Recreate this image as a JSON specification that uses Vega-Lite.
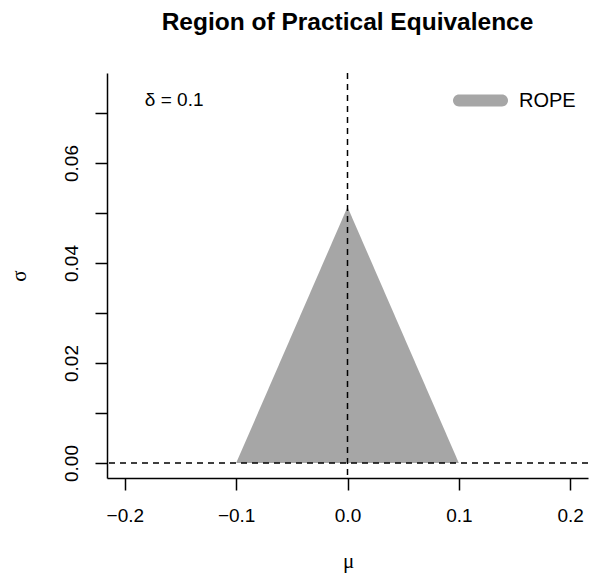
{
  "$schema": "https://vega.github.io/schema/vega-lite/v6.json",
  "width": 481,
  "height": 405,
  "autosize": {"type": "none"},
  "padding": {"left": 107, "top": 73, "right": 7, "bottom": 95},
  "config": {
    "view": {"stroke": null},
    "font": "Liberation Sans",
    "axis": {
      "grid": false,
      "domainColor": "black",
      "domainWidth": 1.5,
      "tickColor": "black",
      "tickWidth": 1.5,
      "tickSize": 12,
      "labelFont": "Liberation Sans",
      "labelFontSize": 19,
      "labelColor": "black",
      "labelFlush": false,
      "labelOverlap": false,
      "titleFont": "Liberation Serif",
      "titleFontSize": 21,
      "titleFontWeight": "normal",
      "titleColor": "black"
    }
  },
  "title": {
    "text": "Region of Practical Equivalence",
    "font": "Liberation Sans",
    "fontSize": 24.5,
    "fontWeight": "bold",
    "color": "black",
    "anchor": "middle",
    "frame": "group",
    "baseline": "alphabetic",
    "offset": 18
  },
  "datasets": {
    "rope": [
      {"mu": -0.1, "sigma": 0, "region": "ROPE"},
      {"mu": 0, "sigma": 0.0512, "region": "ROPE"},
      {"mu": 0.1, "sigma": 0, "region": "ROPE"}
    ]
  },
  "layer": [
    {
      "data": {"name": "rope"},
      "mark": {"type": "area", "opacity": 1},
      "encoding": {
        "x": {
          "field": "mu",
          "type": "quantitative",
          "scale": {"domain": [-0.216, 0.216], "nice": false, "zero": false},
          "axis": {
            "values": [-0.2, -0.1, 0, 0.1, 0.2],
            "format": ".1f",
            "labelPadding": 16,
            "title": "μ",
            "titleAlign": "center",
            "titleBaseline": "alphabetic",
            "titleX": 241,
            "titleY": 89
          }
        },
        "y": {
          "field": "sigma",
          "type": "quantitative",
          "scale": {"domain": [-0.003, 0.078], "nice": false, "zero": false},
          "axis": {
            "values": [0, 0.01, 0.02, 0.03, 0.04, 0.05, 0.06, 0.07],
            "labelExpr": "round(datum.value*100) % 2 == 0 ? format(datum.value, '.2f') : ''",
            "labelAngle": -90,
            "labelAlign": "center",
            "labelBaseline": "alphabetic",
            "labelPadding": 18,
            "title": "σ",
            "titleAngle": -90,
            "titleAlign": "center",
            "titleBaseline": "alphabetic",
            "titleX": -82,
            "titleY": 202.5
          }
        },
        "y2": {"datum": 0},
        "color": {
          "field": "region",
          "type": "nominal",
          "scale": {"range": ["#A6A6A6"]},
          "legend": {
            "title": null,
            "orient": "none",
            "legendX": 346,
            "legendY": 0,
            "padding": 0,
            "symbolType": "M-0.782,-0.218L0.782,-0.218A0.218,0.218,0,0,1,0.782,0.218L-0.782,0.218A0.218,0.218,0,0,1,-0.782,-0.218Z",
            "symbolSize": 3025,
            "symbolStrokeWidth": 0,
            "symbolOpacity": 1,
            "labelFont": "Liberation Sans",
            "labelFontSize": 20,
            "labelColor": "black",
            "labelOffset": 11
          }
        }
      }
    },
    {
      "data": {"values": [{}]},
      "mark": {"type": "rule", "color": "black", "strokeWidth": 1.5, "strokeDash": [6, 5]},
      "encoding": {"x": {"datum": 0}}
    },
    {
      "data": {"values": [{}]},
      "mark": {"type": "rule", "color": "black", "strokeWidth": 1.5, "strokeDash": [6, 5]},
      "encoding": {"y": {"datum": 0}}
    },
    {
      "data": {"values": [{}]},
      "mark": {"type": "text", "text": "δ = 0.1", "align": "left", "baseline": "middle", "font": "Liberation Sans", "fontSize": 19, "color": "black"},
      "encoding": {"x": {"datum": -0.182}, "y": {"datum": 0.0726}}
    }
  ]
}
